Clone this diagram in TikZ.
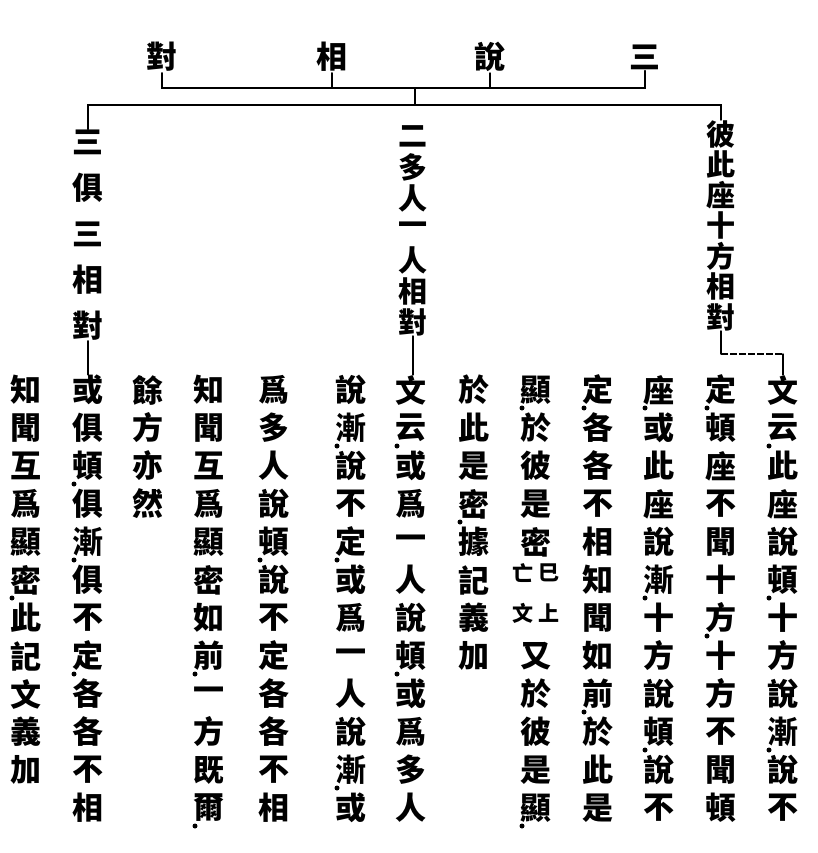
\documentclass[tikz,border=0pt]{standalone}
\usepackage{fontspec}
\newfontfamily\cjk{Noto Sans CJK TC}
\newcommand\mkcol[3]{%
  \foreach \c [count=\k from 0] in {#3} {\node[ch] (c#1-\k) at (#2,{390+38*\k}) {\c};}}
\begin{document}
\begin{tikzpicture}[x=1pt,y=-1pt,
  ch/.style={font=\cjk\bfseries\fontsize{31}{31}\selectfont, inner sep=0pt, anchor=center},
  bch/.style={font=\cjk\bfseries\fontsize{29}{29}\selectfont, inner sep=0pt, anchor=center},
  sm/.style={font=\cjk\bfseries\fontsize{21}{21}\selectfont, inner sep=0pt, anchor=center},
  ln/.style={line width=1.4pt, line cap=round},
  brk/.style={line width=1.2pt, dash pattern=on 7pt off 2pt}]
\useasboundingbox[fill=white] (0,0) rectangle (818,853);
% title
\node[ch] (t1) at (645,57) {三};
\node[ch] (t2) at (490,57) {說};
\node[ch] (t3) at (332,57) {相};
\node[ch] (t4) at (162,57) {對};
\coordinate (j1) at (415,88);
\coordinate (j2) at (415,105);
\draw[ln] ([yshift=-1pt]t4.south) -- (t4.south |- j1) -- (t1.south |- j1) -- ([yshift=-1pt]t1.south);
\draw[ln] ([yshift=-1pt]t3.south) -- (t3.south |- j1);
\draw[ln] ([yshift=-1pt]t2.south) -- (t2.south |- j1);
\draw[ln] (j1) -- (j2);
% right branch
\foreach \c [count=\k from 0] in {彼,此,座,十,方,相,對}
  \node[bch] (r\k) at (721,{134+30.5*\k}) {\c};
% middle branch
\foreach \c [count=\k from 0] in {二,多,人,一,人,相,對}
  \node[bch] (m\k) at (413,{136+31*\k}) {\c};
% left branch
\foreach \c [count=\k from 0] in {三,俱,三,相,對}
  \node[ch] (l\k) at (88,{142+46*\k}) {\c};
\draw[ln] (l0.north) -- (l0.north |- j2) -- (r0.north |- j2) -- (r0.north);
% columns
\mkcol{1}{783}{文,云,此,座,說,頓,十,方,說,漸,說,不}
\mkcol{2}{721}{定,頓,座,不,聞,十,方,十,方,不,聞,頓}
\mkcol{3}{659}{座,或,此,座,說,漸,十,方,說,頓,說,不}
\mkcol{4}{598}{定,各,各,不,相,知,聞,如,前,於,此,是}
\foreach \r/\c in {0/顯,1/於,2/彼,3/是,4/密,7/又,8/於,9/彼,10/是,11/顯}
  \node[ch] (c5-\r) at (536,{390+38*\r}) {\c};
\node[sm] (a1) at (549,573) {巳};
\node[sm] (a2) at (549,613) {上};
\node[sm] (a3) at (523,573) {亡};
\node[sm] (a4) at (523,613) {文};
\mkcol{6}{474}{於,此,是,密,據,記,義,加}
\mkcol{7}{411}{文,云,或,爲,一,人,說,頓,或,爲,多,人}
\mkcol{8}{351}{說,漸,說,不,定,或,爲,一,人,說,漸,或}
\mkcol{9}{274}{爲,多,人,說,頓,說,不,定,各,各,不,相}
\mkcol{10}{209}{知,聞,互,爲,顯,密,如,前,一,方,既,爾}
\mkcol{11}{148}{餘,方,亦,然}
\mkcol{12}{88}{或,俱,頓,俱,漸,俱,不,定,各,各,不,相}
\mkcol{13}{26}{知,聞,互,爲,顯,密,此,記,文,義,加}
% branch connectors to text
\coordinate (rk) at (721,354);
\draw[ln] (r6.south) -- (rk);
\draw[brk] (rk) -- (rk -| c1-0.north);
\draw[ln] (rk -| c1-0.north) -- (c1-0.north);
\draw[ln] (m6.south) -- (m6.south |- c7-0.north);
\draw[ln] (l4.south) -- (l4.south |- c12-0.north);
% punctuation dots
\foreach \cx/\r in {783/1,783/5,783/9,721/0,721/6,659/0,659/5,659/9,598/0,598/8,
  536/0,536/11,474/3,411/1,411/7,351/1,351/4,351/10,274/4,209/7,209/11,88/2,88/4,88/7,26/5}
  \fill ({\cx-14},{390+38*\r+18}) circle (2.5pt);
\end{tikzpicture}
\end{document}
